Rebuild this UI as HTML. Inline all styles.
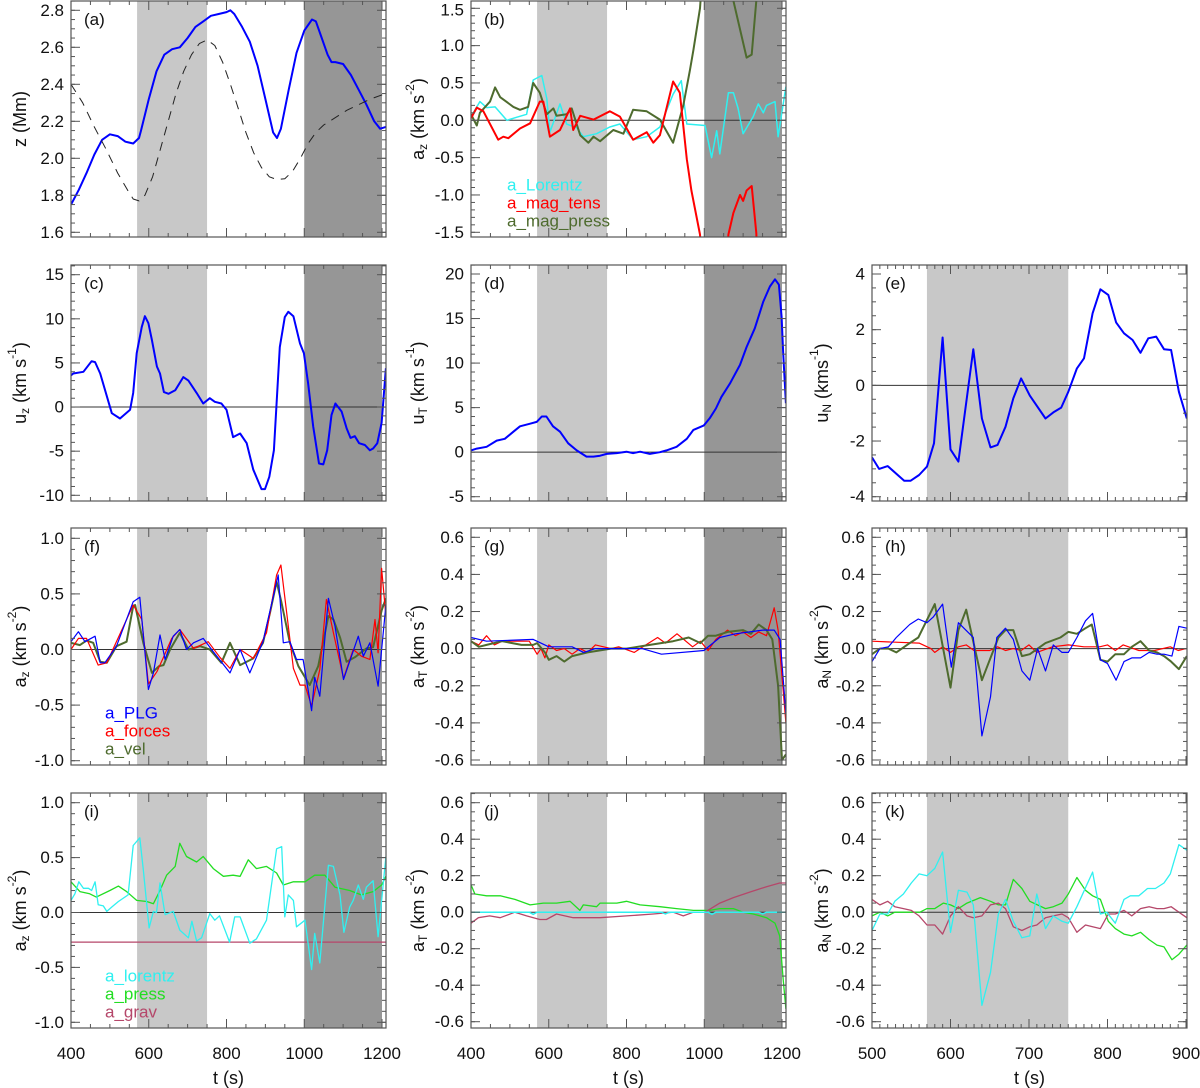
<!DOCTYPE html>
<html><head><meta charset="utf-8"><style>
html,body{margin:0;padding:0;background:#fff;}
svg{display:block;font-family:"Liberation Sans",Arial,sans-serif;}
</style></head><body>
<svg id="fig" width="1200" height="1088" viewBox="0 0 1200 1088" xmlns="http://www.w3.org/2000/svg"></svg>
<script>
// ---------- data ----------
const aT1=[400,420,440,460,480,500,520,540,560,575,580,600,620,640,660,680,700,720,740,760,780,800,810,820,840,860,880,900,920,930,940,960,980,1000,1020,1030,1040,1060,1070,1080,1100,1120,1140,1160,1180,1195,1210];
const aZ=[1.75,1.83,1.92,2.02,2.10,2.13,2.12,2.09,2.08,2.11,2.15,2.32,2.47,2.56,2.59,2.60,2.65,2.71,2.74,2.77,2.78,2.79,2.80,2.78,2.71,2.63,2.50,2.32,2.14,2.11,2.16,2.37,2.57,2.69,2.75,2.74,2.68,2.56,2.52,2.52,2.51,2.45,2.37,2.29,2.20,2.16,2.17];
const aT2=[400,430,460,490,520,545,560,575,590,610,630,650,670,690,710,730,750,770,790,810,830,850,870,890,910,930,950,970,990,1010,1030,1050,1080,1110,1140,1170,1210];
const aZdash=[2.40,2.30,2.17,2.05,1.92,1.83,1.78,1.77,1.80,1.90,2.05,2.20,2.35,2.47,2.56,2.62,2.64,2.61,2.52,2.40,2.27,2.14,2.03,1.95,1.90,1.885,1.89,1.93,2.00,2.08,2.14,2.18,2.22,2.26,2.29,2.32,2.35];

const bLorT=[400,423,440,462,492,517,543,560,582,595,603,629,646,672,689,723,757,783,817,852,886,920,941,955,1002,1019,1032,1040,1062,1075,1087,1100,1126,1139,1152,1160,1182,1190,1210];
const bLor=[0.05,0.25,0.17,0.18,0,0.04,0.08,0.54,0.6,0.29,-0.16,0.22,-0.05,-0.1,-0.22,-0.18,-0.09,-0.05,-0.26,-0.22,-0.09,0.35,0.53,-0.05,-0.07,-0.5,-0.14,-0.45,0.37,0.37,0.16,-0.18,0.05,0.22,0.1,0.2,0.25,-0.22,0.45];
const bTenT=[400,415,432,470,483,496,526,552,577,586,603,629,655,663,681,715,757,783,817,852,869,886,920,937,955,967,989,1010,1045,1062,1075,1092,1100,1109,1122,1134,1145];
const bTen=[0.03,0.17,0.12,-0.26,-0.22,-0.24,-0.11,-0.04,0.25,0.25,-0.22,-0.13,0.16,-0.13,0.06,0.01,0.12,0.05,-0.26,-0.16,-0.3,-0.2,0.52,0.37,-0.52,-0.94,-1.53,-3,-3,-1.53,-1.24,-1.0,-1.08,-0.94,-0.88,-1.51,-3];
const bPrsT=[400,415,423,449,462,475,509,526,547,560,577,595,612,620,646,659,681,702,715,732,766,792,817,852,886,920,946,963,972,989,1010,1060,1075,1109,1122,1134,1150];
const bPrs=[0.08,-0.07,0.1,0.25,0.44,0.31,0.18,0.14,0.18,0.5,0.37,0.08,0.16,0.06,0.08,0.16,-0.2,-0.3,-0.22,-0.28,-0.13,-0.18,0.14,0.12,0.01,-0.3,0.2,0.67,0.94,1.5,3,3,1.6,0.84,0.88,1.6,3];

const cT=[400,406,432,453,462,475,505,526,552,560,569,582,590,599,608,621,629,639,651,668,689,702,723,740,757,770,787,800,817,835,852,869,890,899,910,922,937,950,959,972,989,999,1010,1023,1038,1049,1059,1070,1080,1096,1109,1119,1130,1141,1156,1169,1177,1188,1199,1210];
const cUz=[3.6,3.8,4.0,5.2,5.1,3.8,-0.7,-1.3,-0.3,1.6,6.1,9.1,10.3,9.5,7.6,4.6,3.8,1.7,1.5,1.9,3.4,3.0,1.6,0.4,1.0,0.6,0.4,-0.3,-3.4,-3.0,-4.1,-7.1,-9.3,-9.3,-7.9,-4.9,6.8,10.2,10.8,10.3,7.2,6.1,2.7,-2.2,-6.4,-6.5,-4.9,-0.9,0.4,-0.5,-2.4,-3.5,-3.3,-4.1,-4.3,-4.9,-4.7,-4.1,-1.8,4.4];

const dT=[400,415,440,466,487,509,526,552,569,582,594,611,629,650,672,697,715,732,749,775,800,817,835,860,886,903,929,955,972,999,1014,1030,1044,1066,1092,1109,1130,1152,1169,1182,1192,1199,1203,1210];
const dUt=[0.2,0.4,0.6,1.3,1.5,2.3,2.9,3.2,3.4,4.0,4.0,2.9,2.3,1.0,0.2,-0.5,-0.5,-0.4,-0.2,-0.1,0.05,-0.1,0.05,-0.2,0,0.2,0.6,1.5,2.5,3.0,3.8,4.9,6.2,7.7,9.8,11.8,13.9,16.9,18.6,19.4,18.8,15.2,11.1,5.5];

const eT=[500,509,520,541,549,560,570,579,590,600,610,629,640,651,660,670,680,690,701,721,731,741,750,761,770,781,791,801,811,821,832,842,852,862,872,881,891,901];
const eUn=[-2.59,-3.0,-2.9,-3.43,-3.43,-3.22,-2.92,-2.08,1.72,-2.3,-2.74,1.3,-1.19,-2.23,-2.14,-1.49,-0.47,0.25,-0.37,-1.19,-0.97,-0.8,-0.23,0.61,0.97,2.59,3.45,3.25,2.26,1.87,1.63,1.17,1.69,1.75,1.3,1.27,-0.23,-1.19];

const fVelT=[400,423,440,457,475,492,517,543,560,565,586,608,626,638,655,680,702,732,757,787,809,835,869,894,912,929,941,963,985,1014,1036,1062,1075,1092,1109,1130,1160,1177,1199,1210];
const fVel=[0.06,0.04,0.08,0.06,-0.11,-0.12,0.03,0.07,0.39,0.40,0.06,-0.21,-0.15,-0.14,0,0.15,0,0.03,0,-0.12,0.06,-0.14,-0.08,0.06,0.33,0.61,0.43,0.06,-0.15,-0.32,-0.15,0.30,0.27,0.11,-0.11,-0.07,0.01,0.02,0.35,0.46];
const fPlgT=[400,419,436,462,475,487,517,560,577,599,612,629,642,663,680,697,715,740,766,809,835,860,894,933,946,963,980,997,1019,1027,1040,1062,1079,1101,1139,1152,1169,1190,1210];
const fPlg=[0.07,0.16,0.07,0.12,-0.12,-0.12,0.03,0.43,0.47,-0.36,-0.21,0.13,-0.09,0.12,0.18,0,0.06,0.1,-0.02,-0.21,0,-0.21,0.07,0.67,0.06,0.07,-0.09,-0.09,-0.55,-0.25,-0.42,0.46,0.21,-0.27,0.12,-0.06,0.06,-0.33,0.4];
const fForT=[400,419,440,470,492,560,582,599,621,638,659,680,715,753,783,809,835,869,903,929,940,959,972,989,1002,1019,1040,1057,1075,1101,1126,1147,1169,1182,1190,1199,1210];
const fFor=[0,0.1,0.1,-0.14,-0.12,0.40,0.27,-0.31,-0.2,-0.07,0.1,0.18,0.01,0.07,-0.07,-0.17,0,-0.08,0.15,0.67,0.76,0.21,-0.17,-0.32,-0.32,-0.51,-0.18,0.45,0.15,-0.26,0,-0.06,-0.09,0.27,-0.03,0.73,0.3];

const gPlgT=[400,440,560,600,660,690,720,840,890,999,1040,1080,1150,1180,1195,1210];
const gPlg=[0.06,0.04,0.05,0.01,0.01,-0.02,0,0,-0.03,-0.01,0.06,0.08,0.1,0.1,0.05,-0.35];
const gForT=[400,420,440,460,480,550,570,580,590,600,620,640,660,680,700,720,760,780,820,850,880,900,930,970,990,1010,1030,1060,1080,1100,1120,1140,1160,1180,1190,1210];
const gFor=[0.04,0.02,0.07,0.02,0.04,0.04,-0.03,0,-0.05,0.02,-0.01,0,-0.03,0,-0.02,0.02,0,0.01,-0.02,0.02,0.06,0.03,0.08,0.01,0.04,-0.01,0.05,0.1,0.07,0.09,0.06,0.09,0.07,0.22,0.1,-0.4];
const gVelT=[400,420,440,480,530,560,570,590,600,620,640,660,700,760,800,860,920,960,990,1010,1030,1060,1100,1120,1140,1160,1175,1190,1200,1210];
const gVel=[0.04,0.01,0.02,0.04,0.02,0.02,0.03,-0.02,-0.06,-0.04,-0.07,-0.04,-0.02,0,0,0.02,0.04,0.06,0.03,0.07,0.07,0.09,0.1,0.08,0.13,0.1,0.05,-0.2,-0.6,-0.57];

const hPlgT=[500,510,521,531,548,559,570,578,590,601,610,629,640,651,659,670,680,691,701,711,721,731,742,750,761,772,781,791,800,811,821,831,842,853,863,872,882,891,901];
const hPlg=[-0.07,0,0.01,0.06,0.13,0.16,0.14,0.17,0.24,-0.1,0.14,0.06,-0.47,-0.26,0.06,0.11,0.05,-0.12,-0.17,0,-0.12,0.02,-0.02,-0.02,0.06,0.15,0.19,-0.06,-0.08,-0.17,-0.07,-0.05,-0.05,-0.02,-0.03,-0.03,-0.04,0.12,0.11];
const hVelT=[500,510,521,531,548,559,580,600,610,620,640,661,670,680,691,701,721,740,750,761,772,780,791,800,810,821,831,842,853,863,872,881,891,901];
const hVel=[-0.03,0,0,-0.02,0.03,0.06,0.24,-0.21,0.1,0.21,-0.17,0.06,0.1,0.1,-0.04,-0.03,0.03,0.06,0.09,0.08,0.11,0.13,-0.06,-0.07,-0.03,-0.03,0.01,0.04,-0.01,-0.02,-0.04,-0.07,-0.11,-0.04];
const hForT=[500,530,560,575,580,590,600,610,620,630,650,660,670,680,690,700,710,730,750,770,790,800,810,820,840,860,880,890,900];
const hFor=[0.04,0.035,0.03,0,-0.02,0.01,-0.02,0.01,0.02,-0.01,-0.01,0.01,-0.01,0,-0.01,0.02,-0.02,0.01,0.02,0.01,0.01,0.02,-0.01,0.02,-0.01,-0.01,0.01,-0.01,0];

const iLorT=[400,410,420,432,445,453,462,470,483,492,505,522,547,560,577,586,601,612,620,629,642,663,680,702,711,723,736,757,770,782,808,821,835,860,877,903,929,942,950,959,972,980,1002,1019,1027,1040,1062,1075,1092,1102,1117,1126,1139,1152,1160,1177,1190,1210];
const iLor=[0.11,0.17,0.28,0.22,0.22,0.2,0.28,0.07,0.06,0.01,0.05,0.1,0.16,0.61,0.68,0.39,-0.14,0.01,0,0.27,-0.02,0.01,-0.16,-0.23,-0.08,-0.26,-0.23,-0.01,-0.07,-0.03,-0.27,-0.04,-0.04,-0.28,-0.24,-0.07,0.58,0.6,-0.04,0.16,0.11,-0.13,-0.07,-0.52,-0.19,-0.46,0.43,0.42,0.16,-0.18,0.05,0.11,0.25,0.12,0.23,0.29,-0.22,0.51];
const iPrsT=[400,423,448,465,500,522,543,569,595,612,629,646,668,680,697,723,740,766,792,817,835,856,877,903,929,946,972,1002,1027,1053,1079,1117,1147,1177,1199,1210];
const iPrs=[0.28,0.19,0.17,0.14,0.2,0.24,0.19,0.11,0.1,0.08,0.2,0.34,0.42,0.63,0.51,0.46,0.51,0.4,0.33,0.34,0.33,0.48,0.4,0.42,0.36,0.25,0.28,0.28,0.34,0.34,0.23,0.2,0.16,0.19,0.25,0.33];
const iGravT=[400,1210];
const iGrav=[-0.27,-0.27];

const jPrsT=[400,410,440,475,513,552,586,620,655,680,689,723,732,775,800,835,886,929,972,1014,1040,1075,1100,1126,1160,1182,1194,1203,1210];
const jPrs=[0.15,0.1,0.09,0.09,0.07,0.04,0.05,0.05,0.06,0.01,0.04,0.03,0.05,0.05,0.06,0.04,0.03,0.02,0.01,0.01,0.02,0.02,0,-0.01,-0.03,-0.06,-0.13,-0.37,-0.53];
const jGravT=[400,419,448,475,513,543,577,594,620,663,732,800,869,920,946,972,1002,1040,1075,1117,1160,1194,1210];
const jGrav=[-0.06,-0.03,-0.02,-0.03,0,-0.02,-0.04,-0.04,-0.01,-0.03,-0.03,-0.02,-0.01,0,-0.02,0,0,0.05,0.08,0.11,0.14,0.16,0.16];
const jLorT=[400,550,560,570,890,900,910,1010,1020,1030,1140,1150,1160,1210];
const jLor=[0,0,-0.012,0,0,-0.01,0,0,-0.012,0,0,-0.01,0,0];

const kLorT=[500,510,520,529,540,550,560,570,580,590,600,610,621,629,640,651,661,670,680,691,701,710,721,731,742,750,761,781,791,799,810,821,829,840,851,861,872,880,891,901];
const kLor=[-0.1,-0.01,-0.01,0.06,0.1,0.16,0.21,0.2,0.24,0.33,-0.11,0.12,0.11,0.04,-0.51,-0.33,-0.01,0.07,-0.05,-0.14,-0.13,0.1,-0.09,-0.02,-0.05,-0.06,0.03,0.22,-0.01,0,-0.06,0.07,0.09,0.09,0.13,0.13,0.16,0.21,0.37,0.34];
const kPrsT=[500,510,520,529,540,550,561,570,580,591,600,610,621,638,651,661,670,680,691,701,721,731,742,750,761,772,781,791,801,810,821,831,842,853,863,872,882,891,901];
const kPrs=[-0.02,0,-0.02,0,0,0,0,0.02,0.02,0.05,0.04,0.02,0.05,0.08,0.06,0.04,0.04,0.18,0.13,0.06,0.02,0.03,0.05,0.1,0.19,0.12,0.09,0.07,-0.05,-0.09,-0.12,-0.13,-0.11,-0.15,-0.18,-0.19,-0.26,-0.23,-0.18];
const kGravT=[500,510,520,529,540,550,560,570,580,590,600,610,621,629,640,651,661,670,680,691,701,710,721,731,742,750,761,772,781,791,801,810,821,831,842,853,863,872,881,891,901];
const kGrav=[0.07,0.04,0.06,0.03,0.02,0.01,-0.02,-0.07,-0.07,-0.12,-0.02,0.03,-0.02,-0.03,-0.02,0.04,0.05,0.02,-0.08,-0.1,-0.08,-0.07,-0.03,-0.02,-0.01,-0.03,-0.11,-0.07,-0.08,-0.09,-0.01,-0.01,0.01,-0.02,0.02,0.03,0.02,0.02,0.03,0,-0.03];

// ---------- layout ----------
const NS="http://www.w3.org/2000/svg";
const svg=document.getElementById('fig');
function mk(tag,attrs,parent){const e=document.createElementNS(NS,tag);for(const k in attrs)e.setAttribute(k,attrs[k]);(parent||svg).appendChild(e);return e;}
const COLS=[[71,386],[471,786],[872,1187]];
const ROWS=[[1,237],[265,501],[528,765],[793,1028]];
const XL={x0:400,p0:0,x1:1200,p1:311};
const XR={x0:500,p0:0,x1:900,p1:314};
const C={blue:'#0000ff',red:'#ff0000',olive:'#4e6b2e',cyan:'#2ff0f0',green:'#22dd22',maroon:'#b5476a'};

const panels=[
 {id:'a',col:0,row:0,xs:XL,y:[2.8,10.3,1.6,232.3],ticks:[1.6,1.8,2.0,2.2,2.4,2.6,2.8],minor:0.05,dec:1,dark:true,zero:false,
  title:['z (Mm)'],series:[[aT1,aZ,C.blue,2,''],[aT2,aZdash,'#222',1,'9,7']]},
 {id:'b',col:1,row:0,xs:XL,y:[1.5,8.3,-1.5,232.3],ticks:[-1.5,-1,-0.5,0,0.5,1,1.5],minor:0.1,dec:1,dark:true,zero:true,
  title:['a','z',' (km s','-2',')'],series:[[bLorT,bLor,C.cyan,1.5],[bPrsT,bPrs,C.olive,2],[bTenT,bTen,C.red,2]],
  legend:[[507,185,'a_Lorentz',C.cyan],[507,203,'a_mag_tens',C.red],[507,221,'a_mag_press',C.olive]]},
 {id:'c',col:0,row:1,xs:XL,y:[15,274.7,-10,495.3],ticks:[-10,-5,0,5,10,15],minor:1,dec:0,dark:true,zero:true,
  title:['u','z',' (km s','-1',')'],series:[[cT,cUz,C.blue,2]]},
 {id:'d',col:1,row:1,xs:XL,y:[20,274,-5,496.7],ticks:[-5,0,5,10,15,20],minor:1,dec:0,dark:true,zero:true,
  title:['u','T',' (km s','-1',')'],series:[[dT,dUt,C.blue,2]]},
 {id:'e',col:2,row:1,xs:XR,y:[4,274,-4,496.7],ticks:[-4,-2,0,2,4],minor:0.5,dec:0,dark:false,zero:true,
  title:['u','N',' (kms','-1',')'],series:[[eT,eUn,C.blue,2]]},
 {id:'f',col:0,row:2,xs:XL,y:[1,538.3,-1,760.7],ticks:[-1,-0.5,0,0.5,1],minor:0.1,dec:1,dark:true,zero:true,
  title:['a','z',' (km s','-2',')'],series:[[fVelT,fVel,C.olive,2],[fForT,fFor,C.red,1.2],[fPlgT,fPlg,C.blue,1.2]],
  legend:[[105,713,'a_PLG',C.blue],[105,731,'a_forces',C.red],[105,749,'a_vel',C.olive]]},
 {id:'g',col:1,row:2,xs:XL,y:[0.6,537.3,-0.6,760],ticks:[-0.6,-0.4,-0.2,0,0.2,0.4,0.6],minor:0.05,dec:1,dark:true,zero:true,
  title:['a','T',' (km s','-2',')'],series:[[gForT,gFor,C.red,1.2],[gVelT,gVel,C.olive,2],[gPlgT,gPlg,C.blue,1.2]]},
 {id:'h',col:2,row:2,xs:XR,y:[0.6,537.3,-0.6,760],ticks:[-0.6,-0.4,-0.2,0,0.2,0.4,0.6],minor:0.05,dec:1,dark:false,zero:true,
  title:['a','N',' (km s','-2',')'],series:[[hForT,hFor,C.red,1.2],[hVelT,hVel,C.olive,2],[hPlgT,hPlg,C.blue,1.2]]},
 {id:'i',col:0,row:3,xs:XL,y:[1,802.7,-1,1022.3],ticks:[-1,-0.5,0,0.5,1],minor:0.1,dec:1,dark:true,zero:true,
  title:['a','z',' (km s','-2',')'],series:[[iPrsT,iPrs,C.green,1.3],[iGravT,iGrav,C.maroon,1.3],[iLorT,iLor,C.cyan,1.3]],
  legend:[[105,976,'a_lorentz',C.cyan],[105,994,'a_press',C.green],[105,1012,'a_grav',C.maroon]]},
 {id:'j',col:1,row:3,xs:XL,y:[0.6,802.7,-0.6,1021.7],ticks:[-0.6,-0.4,-0.2,0,0.2,0.4,0.6],minor:0.05,dec:1,dark:true,zero:true,
  title:['a','T',' (km s','-2',')'],series:[[jPrsT,jPrs,C.green,1.3],[jGravT,jGrav,C.maroon,1.3],[jLorT,jLor,C.cyan,1.5]]},
 {id:'k',col:2,row:3,xs:XR,y:[0.6,802.7,-0.6,1021.7],ticks:[-0.6,-0.4,-0.2,0,0.2,0.4,0.6],minor:0.05,dec:1,dark:false,zero:true,
  title:['a','N',' (km s','-2',')'],series:[[kPrsT,kPrs,C.green,1.3],[kGravT,kGrav,C.maroon,1.3],[kLorT,kLor,C.cyan,1.3]]},
];
const titleX=[20,418,822];

panels.forEach(P=>{
  const L=COLS[P.col][0],R=COLS[P.col][1],T=ROWS[P.row][0],B=ROWS[P.row][1];
  const xs=P.xs;
  const X=t=>L+xs.p0+(t-xs.x0)*(xs.p1-xs.p0)/(xs.x1-xs.x0);
  const Y=v=>P.y[1]+(v-P.y[0])*(P.y[3]-P.y[1])/(P.y[2]-P.y[0]);
  const g=mk('g',{});
  
  
  const cp=mk('clipPath',{id:'cp'+P.id},g);
  mk('rect',{x:L,y:T,width:R-L,height:B-T},cp);
  const shade=mk('rect',{x:X(570),y:T,width:X(750)-X(570),height:B-T,fill:'#c8c8c8'},g);
  
  
  if(P.dark){
    const d=mk('rect',{x:X(1000),y:T,width:X(1200)-X(1000),height:B-T,fill:'#969696'},g);
    
    
  }
  if(P.zero){
    const z=mk('line',{x1:L,x2:R,y1:Y(0),y2:Y(0),stroke:'#333','stroke-width':1},g);
    
    
  }
  const sg=mk('g',{'clip-path':'url(#cp'+P.id+')'},g);
  P.series.forEach((s,si)=>{
    const pts=s[0].map((t,i)=>X(t).toFixed(1)+','+Y(s[1][i]).toFixed(1)).join(' ');
    const pl=mk('polyline',{points:pts,fill:'none',stroke:s[2],'stroke-width':s[3],'stroke-linejoin':'round'},sg);
    if(s[4])pl.setAttribute('stroke-dasharray',s[4]);
    
    
  });
  const fr=mk('rect',{x:L,y:T,width:R-L,height:B-T,fill:'none',stroke:'#555','stroke-width':1.2},g);
  
  
  const vmin=P.y[0]+(B-P.y[1])*(P.y[2]-P.y[0])/(P.y[3]-P.y[1]);
  const vmax=P.y[0]+(T-P.y[1])*(P.y[2]-P.y[0])/(P.y[3]-P.y[1]);
  for(let v=Math.ceil(vmin/P.minor)*P.minor;v<=vmax+1e-9;v+=P.minor){
    const yy=Y(v);if(yy<T||yy>B)continue;
    mk('line',{x1:L,x2:L+4,y1:yy,y2:yy,stroke:'#555'},g);
    mk('line',{x1:R,x2:R-4,y1:yy,y2:yy,stroke:'#555'},g);
  }
  P.ticks.forEach(v=>{
    const yy=Y(v);
    mk('line',{x1:L,x2:L+9,y1:yy,y2:yy,stroke:'#555'},g);
    mk('line',{x1:R,x2:R-9,y1:yy,y2:yy,stroke:'#555'},g);
    const tl=mk('text',{x:L-7,y:Math.max(yy,T+9),'text-anchor':'end','dominant-baseline':'central','font-size':17,fill:'#111'},g);
    tl.textContent=v.toFixed(P.dec);
    
    
  });
  const minorStep=(xs===XL)?50:10,majorStep=(xs===XL)?200:100;
  for(let t=xs.x0;t<=xs.x1+1e-9;t+=minorStep){
    const xx=X(t),len=(t%majorStep===0)?9:4;
    mk('line',{x1:xx,x2:xx,y1:B,y2:B-len,stroke:'#555'},g);
    mk('line',{x1:xx,x2:xx,y1:T,y2:T+len,stroke:'#555'},g);
  }
  if(P.row===3){
    for(let t=xs.x0;t<=xs.x1+1e-9;t+=majorStep){
      const xl=mk('text',{x:X(t),y:1059,'text-anchor':'middle','font-size':17,fill:'#111'},g);
      xl.textContent=t;
      
      
    }
    const xt=mk('text',{x:(L+R)/2,y:1084,'text-anchor':'middle','font-size':18,fill:'#111'},g);
    xt.textContent='t (s)';
    
    
  }
  const cy=(T+B)/2;
  const yt=mk('text',{transform:'translate('+titleX[P.col]+','+cy+') rotate(-90)','text-anchor':'middle','dominant-baseline':'central','font-size':18,fill:'#111'},g);
  
  
  const tt=P.title;
  if(tt.length===1){yt.textContent=tt[0];}
  else{
    const a=mk('tspan',{},yt);a.textContent=tt[0];
    const b=mk('tspan',{'font-size':12,dy:5},yt);b.textContent=tt[1];
    const c=mk('tspan',{dy:-5},yt);c.textContent=tt[2];
    const d=mk('tspan',{'font-size':12,dy:-8},yt);d.textContent=tt[3];
    const e=mk('tspan',{dy:8},yt);e.textContent=tt[4];
  }
  const pl=mk('text',{x:L+13,y:T+24,'font-size':17,fill:'#111'},g);
  pl.textContent='('+P.id+')';
  
  
  (P.legend||[]).forEach(lg=>{
    const t=mk('text',{x:lg[0],y:lg[1],'dominant-baseline':'central','font-size':17,fill:lg[3]},g);
    t.textContent=lg[2];
    
    
  });
});
</script>
</body></html>
